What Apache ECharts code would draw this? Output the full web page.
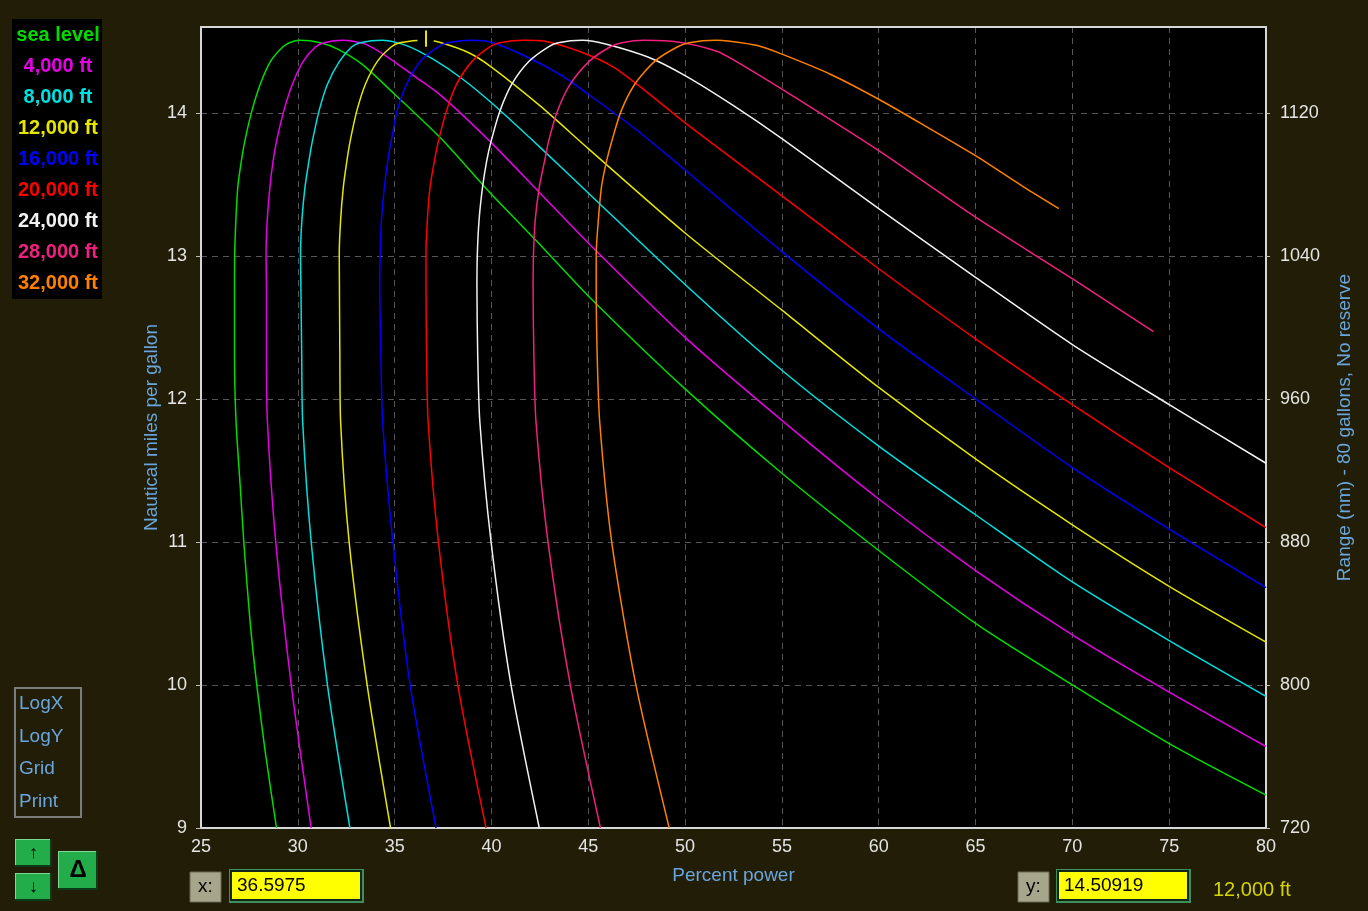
<!DOCTYPE html>
<html>
<head>
<meta charset="utf-8">
<title>Nautical miles per gallon vs percent power</title>
<script src="https://cdn.jsdelivr.net/npm/echarts@6/dist/echarts.min.js"></script>
<style>
  html, body { margin: 0; padding: 0; background: #211d06; }
  #chart { width: 1368px; height: 911px; }
</style>
</head>
<body>
<div id="chart"></div>
<script>
// Altitude curves: each is traced from the 9 nm/gal floor up the left
// branch, over the peak and down the right branch ([percent power, nm/gal]).
const altitudeNames = ['sea level', '4,000 ft', '8,000 ft', '12,000 ft', '16,000 ft',
                       '20,000 ft', '24,000 ft', '28,000 ft', '32,000 ft'];
const lineColors = ['#00dc00', '#e600e6', '#00e0e0', '#e6e600', '#0000ff',
                    '#ff0000', '#f2f2f2', '#f0207e', '#ff8000'];

const seaLevel = [[28.90,9],[28.33,9.52],[27.88,10],[27.53,10.45],[27.21,11],[27.03,11.38],[26.81,11.84],[26.73,12.31],[26.73,12.78],[26.74,13.01],[26.80,13.25],[26.90,13.48],[27.08,13.66],[27.26,13.80],[27.62,14.01],[28.06,14.20],[28.59,14.36],[29.22,14.46],[29.57,14.49],[30.1,14.507],[31.17,14.49],[32.06,14.445],[33.31,14.34],[35,14.13],[37.40,13.82],[40,13.43],[42.5,13.08],[45,12.72],[50,12.07],[55,11.48],[60,10.94],[65,10.43],[70,10.0],[75,9.59],[80,9.23]];
const alt4000 = [[30.69,9],[29.66,10],[28.86,11],[28.43,11.84],[28.38,12.31],[28.38,12.78],[28.36,13.01],[28.42,13.25],[28.56,13.48],[28.72,13.66],[28.90,13.80],[29.27,14.01],[29.72,14.20],[30.28,14.36],[30.91,14.46],[31.35,14.49],[32.33,14.507],[33.49,14.48],[34.64,14.39],[35.98,14.26],[37.40,14.12],[40,13.79],[42.5,13.44],[45,13.09],[50,12.43],[55,11.85],[60,11.30],[65,10.80],[70,10.35],[75,9.95],[80,9.57]];
const alt8000 = [[32.69,9],[31.53,10],[30.69,11],[30.25,11.84],[30.20,12.31],[30.16,12.78],[30.14,13.01],[30.21,13.25],[30.37,13.48],[30.57,13.66],[30.75,13.80],[31.09,14.01],[31.53,14.20],[32.15,14.36],[32.78,14.46],[33.22,14.49],[34.38,14.507],[35.62,14.47],[37.05,14.37],[38.47,14.24],[40,14.07],[42.5,13.76],[45,13.44],[50,12.80],[55,12.20],[60,11.67],[65,11.19],[70,10.72],[75,10.31],[80,9.92]];
const alt12000 = [[34.79,9],[33.58,10],[32.65,11],[32.21,11.84],[32.17,12.31],[32.15,12.78],[32.14,13.01],[32.21,13.25],[32.35,13.48],[32.53,13.66],[32.70,13.80],[33.04,14.01],[33.49,14.20],[34.11,14.36],[34.82,14.46],[35.27,14.49],[36.6,14.509],[37.40,14.49],[38.83,14.42],[40,14.32],[42.5,14.05],[45,13.75],[50,13.16],[55,12.62],[60,12.08],[65,11.58],[70,11.12],[75,10.69],[80,10.30]];
const alt16000 = [[37.14,9],[35.80,10],[34.91,11],[34.38,11.84],[34.29,12.31],[34.23,12.78],[34.25,13.01],[34.32,13.25],[34.47,13.48],[34.64,13.66],[34.82,13.80],[35.12,14.01],[35.62,14.20],[36.33,14.36],[37.22,14.46],[37.76,14.49],[39.0,14.507],[40.07,14.49],[41.85,14.39],[43.63,14.26],[45,14.13],[47.5,13.88],[50,13.60],[55,13.03],[60,12.49],[65,12.0],[70,11.52],[75,11.09],[80,10.68]];
const alt20000 = [[39.72,9],[38.26,10],[37.26,11],[36.73,11.84],[36.65,12.31],[36.62,12.78],[36.62,13.01],[36.69,13.25],[36.83,13.48],[37.05,13.66],[37.26,13.80],[37.67,14.01],[38.20,14.20],[39.00,14.36],[39.89,14.46],[40.43,14.49],[41.67,14.507],[42.74,14.50],[44.52,14.43],[46.30,14.32],[48.08,14.14],[50,13.93],[55,13.42],[60,12.91],[65,12.42],[70,11.96],[75,11.52],[80,11.10]];
const alt24000 = [[42.47,9],[41.01,10],[39.98,11],[39.40,11.84],[39.29,12.31],[39.25,12.78],[39.27,13.01],[39.36,13.25],[39.54,13.48],[39.75,13.66],[39.98,13.80],[40.43,14.01],[41.05,14.20],[41.94,14.36],[42.92,14.46],[43.45,14.49],[44.70,14.507],[45.94,14.48],[48.08,14.39],[50,14.26],[52.5,14.05],[55,13.82],[60,13.33],[65,12.85],[70,12.38],[75,11.96],[80,11.55]];
const alt28000 = [[45.63,9],[44.07,10],[42.92,11],[42.30,11.84],[42.19,12.31],[42.15,12.78],[42.17,13.01],[42.26,13.25],[42.47,13.48],[42.74,13.66],[42.95,13.80],[43.40,14.01],[44.07,14.20],[45.05,14.36],[46.12,14.46],[46.74,14.49],[47.90,14.507],[49.86,14.49],[51.64,14.43],[52.5,14.37],[55,14.165],[60,13.735],[65,13.27],[70,12.84],[74.19,12.47]];
const alt32000 = [[49.18,9],[47.46,10],[46.21,11],[45.59,11.84],[45.46,12.31],[45.41,12.78],[45.41,13.01],[45.52,13.25],[45.68,13.48],[45.94,13.66],[46.21,13.80],[46.69,14.01],[47.40,14.20],[48.43,14.36],[49.59,14.46],[50.21,14.49],[51.57,14.507],[52.32,14.50],[53.74,14.47],[55,14.41],[57.5,14.27],[60,14.095],[62.5,13.90],[65,13.70],[67.5,13.48],[69.30,13.33]];

const curves = [seaLevel, alt4000, alt8000, alt12000, alt16000, alt20000, alt24000, alt28000, alt32000];

// Axis ranges and ticks
const mpgMin = 9, mpgMax = 14.6;
const gallons = 80;
const mpgTicks = [9, 10, 11, 12, 13, 14];
const rangeTicks = [720, 800, 880, 960, 1040, 1120];

// Cursor readout
const cursorX = 36.5975;
const cursorY = 14.50919;
const cursorSeries = 3;
const controlLabels = ['LogX', 'LogY', 'Grid', 'Print'];

const FONT = "'Liberation Sans', Arial, sans-serif";
const NAME_BLUE = '#6aa6dc';
const FRAME = '#d6d6d6';
const TICK_TEXT = '#e4e4e4';

const chart = echarts.init(document.getElementById('chart'), null, { renderer: 'canvas' });

const series = curves.map((pts, i) => ({
  name: altitudeNames[i],
  type: 'line',
  xAxisIndex: 0,
  yAxisIndex: 0,
  data: pts,
  showSymbol: false,
  smooth: 0.25,
  clip: true,
  silent: true,
  lineStyle: { color: lineColors[i], width: 1.5 },
  itemStyle: { color: lineColors[i] },
  z: 3
}));

// cursor: clears a short stretch of the selected curve and marks it with a tick
series[cursorSeries].markLine = {
  silent: true,
  symbol: ['none', 'none'],
  label: { show: false },
  lineStyle: { color: lineColors[cursorSeries], width: 2, type: 'solid' },
  data: [
    [{ coord: [cursorX - 0.42, cursorY], lineStyle: { color: '#000', width: 5 } },
     { coord: [cursorX + 0.42, cursorY] }],
    [{ coord: [cursorX, cursorY - 0.047] }, { coord: [cursorX, cursorY + 0.066] }]
  ]
};

// Legend panel and controls
const graphic = [];
graphic.push({ type: 'rect', shape: { x: 12, y: 19, width: 90, height: 280 }, style: { fill: '#000' } });
altitudeNames.forEach((n, i) => {
  graphic.push({
    type: 'text', x: 58, y: 35 + i * 31,
    style: { text: n, fill: lineColors[i], font: 'bold 20px ' + FONT, align: 'center', verticalAlign: 'middle' }
  });
});
graphic.push({ type: 'rect', shape: { x: 15, y: 688, width: 66, height: 129 },
  style: { fill: 'none', stroke: '#7c7c7c', lineWidth: 2 } });
controlLabels.forEach((t, i) => {
  graphic.push({ type: 'text', x: 19, y: 704 + i * 32.6,
    style: { text: t, fill: NAME_BLUE, font: '19px ' + FONT, align: 'left', verticalAlign: 'middle' } });
});

function button(x, y, w, h, label, size) {
  graphic.push({ type: 'rect', shape: { x: x, y: y, width: w, height: h }, style: { fill: '#0c3a16' } });
  graphic.push({ type: 'rect', shape: { x: x, y: y, width: w - 2, height: h - 2 }, style: { fill: '#7fd89a' } });
  graphic.push({ type: 'rect', shape: { x: x + 1, y: y + 1, width: w - 3, height: h - 3 }, style: { fill: '#22ad4a' } });
  graphic.push({ type: 'text', x: x + w / 2, y: y + h / 2,
    style: { text: label, fill: '#000', font: 'bold ' + size + 'px ' + FONT, align: 'center', verticalAlign: 'middle' } });
}
button(15, 839, 37, 28, '↑', 18);
button(15, 873, 37, 28, '↓', 18);
button(58, 851, 40, 39, 'Δ', 24);

function readout(lx, ly, label, bx, value) {
  graphic.push({ type: 'rect', shape: { x: lx, y: ly, width: 31, height: 30 }, style: { fill: '#a7a68c', stroke: '#6b6a55', lineWidth: 1 } });
  graphic.push({ type: 'text', x: lx + 15.5, y: ly + 15,
    style: { text: label, fill: '#000', font: '19px ' + FONT, align: 'center', verticalAlign: 'middle' } });
  graphic.push({ type: 'rect', shape: { x: bx, y: 869, width: 135, height: 34 }, style: { fill: '#3f8f5c' } });
  graphic.push({ type: 'rect', shape: { x: bx + 1, y: 870, width: 132, height: 31 }, style: { fill: '#11271a' } });
  graphic.push({ type: 'rect', shape: { x: bx + 3, y: 872, width: 128, height: 27 }, style: { fill: '#ffff00' } });
  graphic.push({ type: 'text', x: bx + 8, y: 886,
    style: { text: value, fill: '#000', font: '19px ' + FONT, align: 'left', verticalAlign: 'middle' } });
}
readout(190, 872, 'x:', 229, String(cursorX));
readout(1018, 872, 'y:', 1056, String(cursorY));
graphic.push({ type: 'text', x: 1213, y: 890,
  style: { text: altitudeNames[cursorSeries], fill: '#d6d400', font: '20px ' + FONT, align: 'left', verticalAlign: 'middle' } });

const gridLine = { color: '#565656', type: [6, 5], width: 1 };

const option = {
  backgroundColor: '#211d06',
  animation: false,
  grid: { left: 201, right: 102, top: 27, bottom: 83, show: true, backgroundColor: '#000', borderWidth: 0 },
  xAxis: [{
    type: 'value', min: 25, max: 80, interval: 5, position: 'bottom',
    name: 'Percent power', nameLocation: 'middle', nameGap: 38, nameMoveOverlap: false,
    nameTextStyle: { color: NAME_BLUE, fontSize: 19, fontFamily: FONT },
    axisLine: { show: true, onZero: false, lineStyle: { color: FRAME, width: 2 } },
    axisTick: { show: false },
    axisLabel: { color: TICK_TEXT, fontSize: 18, fontFamily: FONT, margin: 10 },
    splitLine: { show: true, showMinLine: false, showMaxLine: false, lineStyle: gridLine }
  }, {
    type: 'value', min: 25, max: 80, interval: 5, position: 'top', z: 5,
    axisLine: { show: true, onZero: false, lineStyle: { color: FRAME, width: 2 } },
    axisTick: { show: false }, axisLabel: { show: false }, splitLine: { show: false }
  }],
  yAxis: [{
    type: 'value', min: mpgMin, max: mpgMax, interval: 1, position: 'left',
    name: 'Nautical miles per gallon', nameLocation: 'middle', nameGap: 40, nameRotate: 90,
    nameMoveOverlap: false,
    nameTextStyle: { color: NAME_BLUE, fontSize: 19, fontFamily: FONT },
    axisLine: { show: true, onZero: false, lineStyle: { color: FRAME, width: 2 } },
    axisTick: { show: true, length: 5, customValues: mpgTicks, lineStyle: { color: '#bdbdbd' } },
    axisLabel: { color: TICK_TEXT, fontSize: 18, fontFamily: FONT, margin: 14,
      formatter: v => (Math.abs(v - Math.round(v)) < 1e-9 ? String(Math.round(v)) : '') },
    splitLine: { show: true, showMinLine: false, lineStyle: gridLine }
  }, {
    type: 'value', min: mpgMin * gallons, max: mpgMax * gallons, interval: 80, position: 'right',
    name: 'Range (nm) - 80 gallons, No reserve', nameLocation: 'middle', nameGap: 69, nameRotate: 90,
    nameMoveOverlap: false,
    nameTextStyle: { color: NAME_BLUE, fontSize: 19, fontFamily: FONT },
    axisLine: { show: true, onZero: false, lineStyle: { color: FRAME, width: 2 } },
    axisTick: { show: true, length: 4, customValues: rangeTicks, lineStyle: { color: '#bdbdbd' } },
    axisLabel: { color: TICK_TEXT, fontSize: 18, fontFamily: FONT, margin: 14,
      formatter: v => (Math.abs(v % 80) < 1e-6 ? String(Math.round(v)) : '') },
    splitLine: { show: false }
  }],
  series: series,
  graphic: graphic
};

chart.setOption(option);
</script>
</body>
</html>
